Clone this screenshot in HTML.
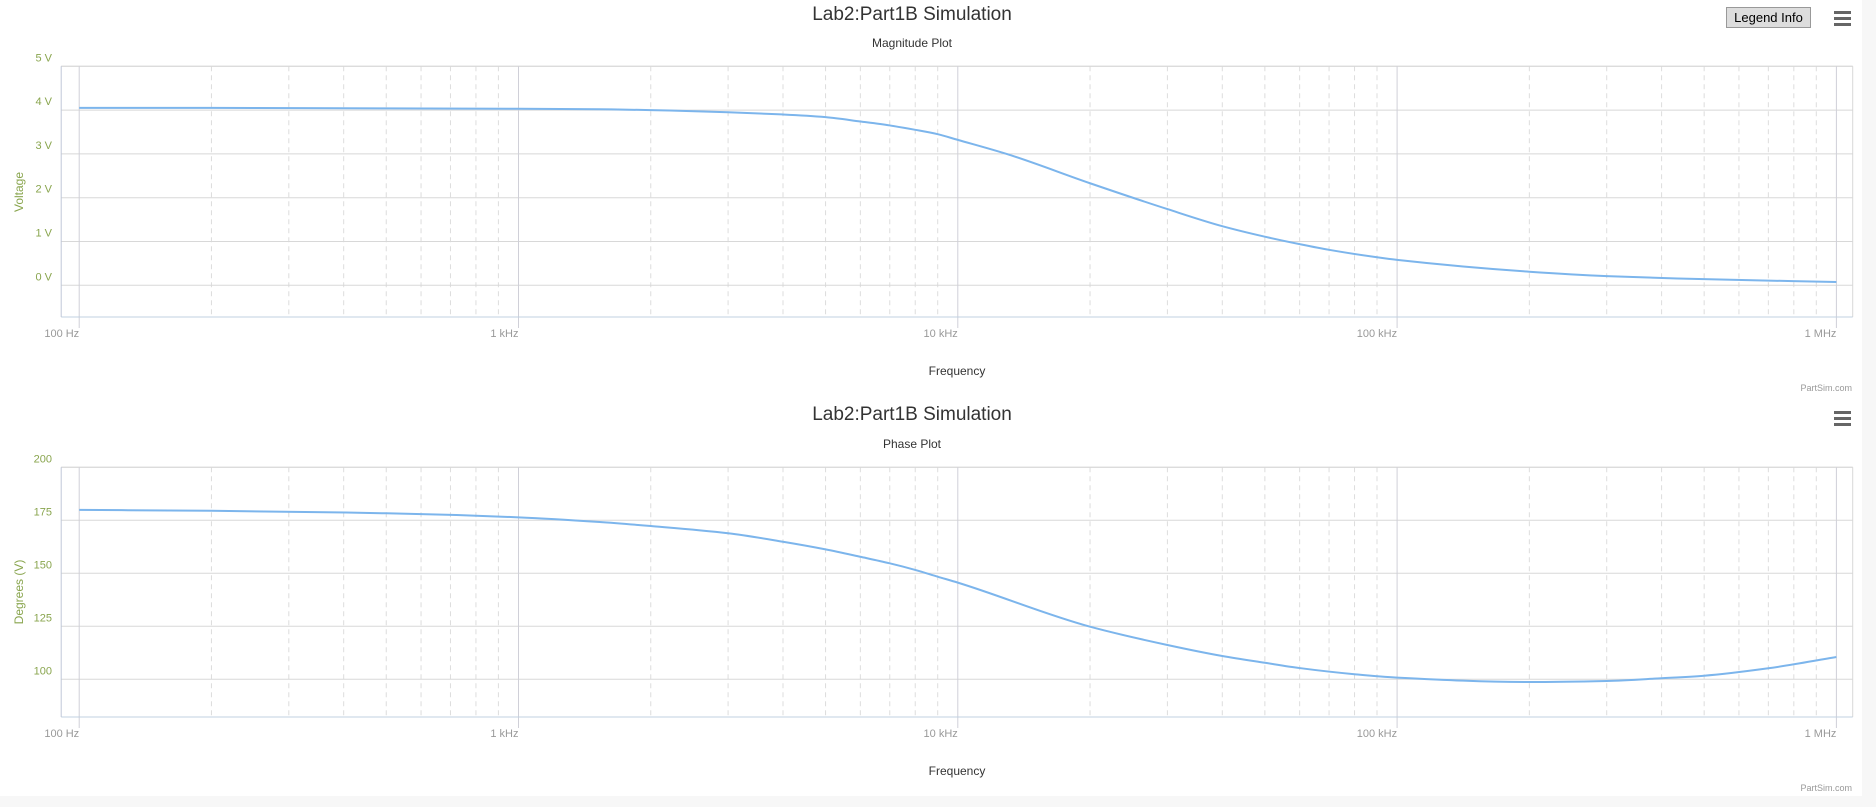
<!DOCTYPE html>
<html><head><meta charset="utf-8"><style>
html,body{margin:0;padding:0;background:#fff;width:1876px;height:807px;overflow:hidden;font-family:"Liberation Sans",sans-serif;}
#strip{position:absolute;left:1862px;top:0;width:14px;height:807px;background:#f7f7f7;}
#band{position:absolute;left:0;top:796px;width:1876px;height:11px;background:#f7f7f7;}
.btn{position:absolute;left:1726px;top:7px;width:85px;height:21px;background:#ddd;border:1px solid #999;box-sizing:border-box;font-size:13px;line-height:19px;text-align:center;color:#000;}
</style></head><body>
<div id="strip"></div>
<div id="band"></div>
<svg id="svg" width="1876" height="807" style="position:absolute;left:0;top:0"></svg>
<div class="btn">Legend Info</div>
<script>
const freqs = [100,200,500,1000,1530,2000,3000,4000,5000,6000,7000,8000,9000,10000,13000,20000,30000,40000,50000,60000,70000,90000,100000,200000,300000,500000,1000000];
const magnitude = [4.05,4.05,4.04,4.03,4.02,4.00,3.95,3.90,3.84,3.74,3.65,3.55,3.45,3.32,2.99,2.33,1.74,1.35,1.11,0.94,0.81,0.64,0.58,0.31,0.21,0.14,0.075];
const phaseFreqs = [100,200,500,1000,1530,2000,3000,4000,5000,6000,7000,8000,9000,10000,20000,30000,40000,50000,60000,80000,100000,200000,300000,400000,500000,700000,1000000];
const phase = [179.9,179.5,178.3,176.4,174.2,172.3,168.9,164.9,161.3,157.8,154.7,151.6,148.4,145.6,124.8,116.2,111,107.8,105.3,102.4,100.8,98.7,99.2,100.5,101.7,105.2,110.5];
const xTickLabels = ["100 Hz","1 kHz","10 kHz","100 kHz","1 MHz"];
const magTicks = [0,1,2,3,4,5];
const magTickLabels = ["0 V","1 V","2 V","3 V","4 V","5 V"];
const phaseTicks = [100,125,150,175,200];
const phaseTickLabels = ["100","125","150","175","200"];

const NS="http://www.w3.org/2000/svg";
const svg=document.getElementById('svg');
function mk(tag,attrs,parent){const e=document.createElementNS(NS,tag);for(const k in attrs)e.setAttribute(k,attrs[k]);(parent||svg).appendChild(e);return e;}
function txt(s,attrs,parent){const e=mk('text',attrs,parent);e.textContent=s;return e;}
const X0=79.2, DEC=439.3, PL=61.2, PR=1852.7;
function xs(f){return X0+(Math.log10(f)-2)*DEC;}

function monotonePath(pts){
  const n=pts.length, dx=[], m=[], t=new Array(n);
  for(let i=0;i<n-1;i++){dx.push(pts[i+1][0]-pts[i][0]);m.push((pts[i+1][1]-pts[i][1])/dx[i]);}
  t[0]=m[0];t[n-1]=m[n-2];
  for(let i=1;i<n-1;i++){
    if(m[i-1]*m[i]<=0)t[i]=0;
    else{const w1=2*dx[i]+dx[i-1],w2=dx[i]+2*dx[i-1];t[i]=(w1+w2)/(w1/m[i-1]+w2/m[i]);}
  }
  let d=`M${pts[0][0].toFixed(2)},${pts[0][1].toFixed(2)}`;
  for(let i=0;i<n-1;i++){const h=dx[i]/3;
    d+=` C${(pts[i][0]+h).toFixed(2)},${(pts[i][1]+t[i]*h).toFixed(2)} ${(pts[i+1][0]-h).toFixed(2)},${(pts[i+1][1]-t[i+1]*h).toFixed(2)} ${pts[i+1][0].toFixed(2)},${pts[i+1][1].toFixed(2)}`;}
  return d;
}

function chart(cfg){
  const g=mk('g',{});
  
  
  const ys=v=>cfg.y0+(v-cfg.v0)*(cfg.y1-cfg.y0)/(cfg.v1-cfg.v0);
  const t=txt('Lab2:Part1B Simulation',{x:912,y:cfg.titleY,'text-anchor':'middle','font-size':19,fill:'#333'},g);
  
  const st=txt(cfg.sub,{x:912,y:cfg.subY,'text-anchor':'middle','font-size':12,fill:'#333'},g);
  
  for(let d=2;d<6;d++)for(let m=2;m<=9;m++){const x=xs(m*Math.pow(10,d));
    const l=mk('line',{x1:x,x2:x,y1:cfg.top,y2:cfg.bottom,stroke:'#ddd','stroke-dasharray':'5,4','stroke-width':1},g);
    }
  cfg.ticks.forEach((v,i)=>{const y=ys(v);
    const l=mk('line',{x1:PL,x2:PR,y1:y,y2:y,stroke:'#d8d8d8','stroke-width':1},g);
    
    const lb=txt(cfg.labels[i],{x:52,y:y-5,'text-anchor':'end','font-size':11,fill:'#89a54e'},g);
    });
  mk('line',{x1:PL,x2:PR,y1:cfg.top,y2:cfg.top,stroke:'#d8d8d8'},g);
  xTickLabels.forEach((s,i)=>{const x=xs(Math.pow(10,i+2));
    const l=mk('line',{x1:x,x2:x,y1:cfg.top,y2:cfg.bottom+11,stroke:'#d0d0d8','stroke-width':1},g);
    
    const lb=txt(s,{x:x,y:cfg.bottom+20,'text-anchor':'end','font-size':11,fill:'#999'},g);
    });
  mk('line',{x1:PR,x2:PR,y1:cfg.top,y2:cfg.bottom,stroke:'#d8d8d8'},g);
  const ax=mk('line',{x1:PL,x2:PR,y1:cfg.bottom,y2:cfg.bottom,stroke:'#c0d0e0','stroke-width':1},g);
  
  mk('line',{x1:PL,x2:PL,y1:cfg.top,y2:cfg.bottom,stroke:'#c0c8d8','stroke-width':1},g);
  const yt=txt(cfg.ytitle,{x:0,y:0,'text-anchor':'middle','font-size':12,fill:'#89a54e',transform:`translate(23,${cfg.ytY}) rotate(-90)`},g);
  
  const xt=txt('Frequency',{x:957,y:cfg.bottom+58,'text-anchor':'middle','font-size':12,fill:'#333'},g);
  
  const cr=txt('PartSim.com',{x:1852,y:cfg.bottom+74,'text-anchor':'end','font-size':9,fill:'#999'},g);
  
  const mi=mk('g',{},g);
  
  [0,6,12].forEach(o=>mk('rect',{x:1834,y:cfg.menuY+o,width:17,height:3,fill:'#666'},mi));
  const pts=cfg.fx.map((f,i)=>[xs(f),ys(cfg.vals[i])]);
  const s=mk('path',{d:monotonePath(pts),fill:'none',stroke:'#7cb5ec','stroke-width':2},g);
  
}
chart({name:'magnitude-chart',sub:'Magnitude Plot',titleY:20,subY:47,top:66.3,bottom:317,y0:285.3,y1:66.3,v0:0,v1:5,
  ticks:magTicks,labels:magTickLabels,ytitle:'Voltage',ytY:192,menuY:11,fx:freqs,vals:magnitude,series:'magnitude-line'});
chart({name:'phase-chart',sub:'Phase Plot',titleY:420,subY:448,top:467.3,bottom:717,y0:679.3,y1:467.3,v0:100,v1:200,
  ticks:phaseTicks,labels:phaseTickLabels,ytitle:'Degrees (V)',ytY:592,menuY:411,fx:phaseFreqs,vals:phase,series:'phase-line'});
</script>
</body></html>
